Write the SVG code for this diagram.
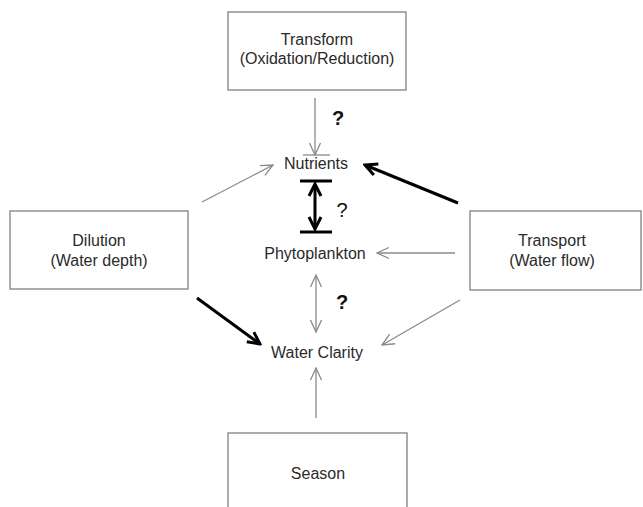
<svg xmlns="http://www.w3.org/2000/svg" width="643" height="507" viewBox="0 0 643 507">
<style>
.box{fill:#fff;stroke:#808080;stroke-width:1.3}
.t{font-family:"Liberation Sans",Arial,sans-serif;font-size:16px;fill:#2a2a2a;text-anchor:middle}
.q{font-family:"Liberation Sans",Arial,sans-serif;font-size:20px;font-weight:bold;fill:#111;text-anchor:middle}
.thin{stroke:#8a8a8a;stroke-width:1.3;fill:none}
.thick{stroke:#000;stroke-width:3;fill:none}
</style>
<defs>
<marker id="ah" viewBox="0 0 14 14" refX="13" refY="7" markerWidth="14" markerHeight="14" markerUnits="userSpaceOnUse" orient="auto-start-reverse">
<path d="M1,1.5 L13,7 L1,12.5" fill="none" stroke="#8a8a8a" stroke-width="1.3"/>
</marker>
<marker id="ahk" viewBox="0 0 16 16" refX="14" refY="8" markerWidth="16" markerHeight="16" markerUnits="userSpaceOnUse" orient="auto-start-reverse">
<path d="M2,2 L14,8 L2,14" fill="none" stroke="#000" stroke-width="3"/>
</marker>
</defs>
<g id="transform"><rect class="box" x="228" y="12" width="178" height="78"/><text class="t" x="317" y="45">Transform</text><text class="t" x="317" y="64">(Oxidation/Reduction)</text></g>
<g id="dilution"><rect class="box" x="10" y="211" width="178" height="78"/><text class="t" x="99" y="246">Dilution</text><text class="t" x="99" y="266">(Water depth)</text></g>
<g id="transport"><rect class="box" x="470" y="211" width="171" height="79"/><text class="t" x="552" y="246">Transport</text><text class="t" x="552" y="266">(Water flow)</text></g>
<g id="season"><rect class="box" x="228" y="433" width="179" height="80"/><text class="t" x="318" y="479">Season</text></g>
<g id="nutrients"><text class="t" x="316" y="169">Nutrients</text></g>
<g id="phytoplankton"><text class="t" x="315" y="259">Phytoplankton</text></g>
<g id="waterclarity"><text class="t" x="317" y="358">Water Clarity</text></g>
<g id="connectors">
<line class="thin" x1="315" y1="98" x2="315" y2="155" marker-end="url(#ah)"/>
<line class="thin" x1="303" y1="155" x2="330" y2="155"/>
<text class="q" x="338" y="125">?</text>
<line class="thin" x1="202" y1="202" x2="273" y2="165" marker-end="url(#ah)"/>
<line class="thick" x1="458" y1="203" x2="365" y2="165" marker-end="url(#ahk)"/>
<line class="thick" x1="300" y1="181" x2="332" y2="181"/>
<line class="thick" x1="300" y1="232" x2="332" y2="232"/>
<line class="thick" x1="315" y1="184" x2="315" y2="229" marker-start="url(#ahk)" marker-end="url(#ahk)"/>
<text class="q" x="342" y="217" style="font-weight:normal">?</text>
<line class="thin" x1="455" y1="253" x2="377" y2="253" marker-end="url(#ah)"/>
<line class="thin" x1="316" y1="275" x2="316" y2="332" marker-start="url(#ah)" marker-end="url(#ah)"/>
<text class="q" x="342" y="309">?</text>
<line class="thick" x1="197" y1="298" x2="260" y2="344" marker-end="url(#ahk)"/>
<line class="thin" x1="460" y1="300" x2="382" y2="345" marker-end="url(#ah)"/>
<line class="thin" x1="316" y1="418" x2="316" y2="368" marker-end="url(#ah)"/>
</g>
</svg>
